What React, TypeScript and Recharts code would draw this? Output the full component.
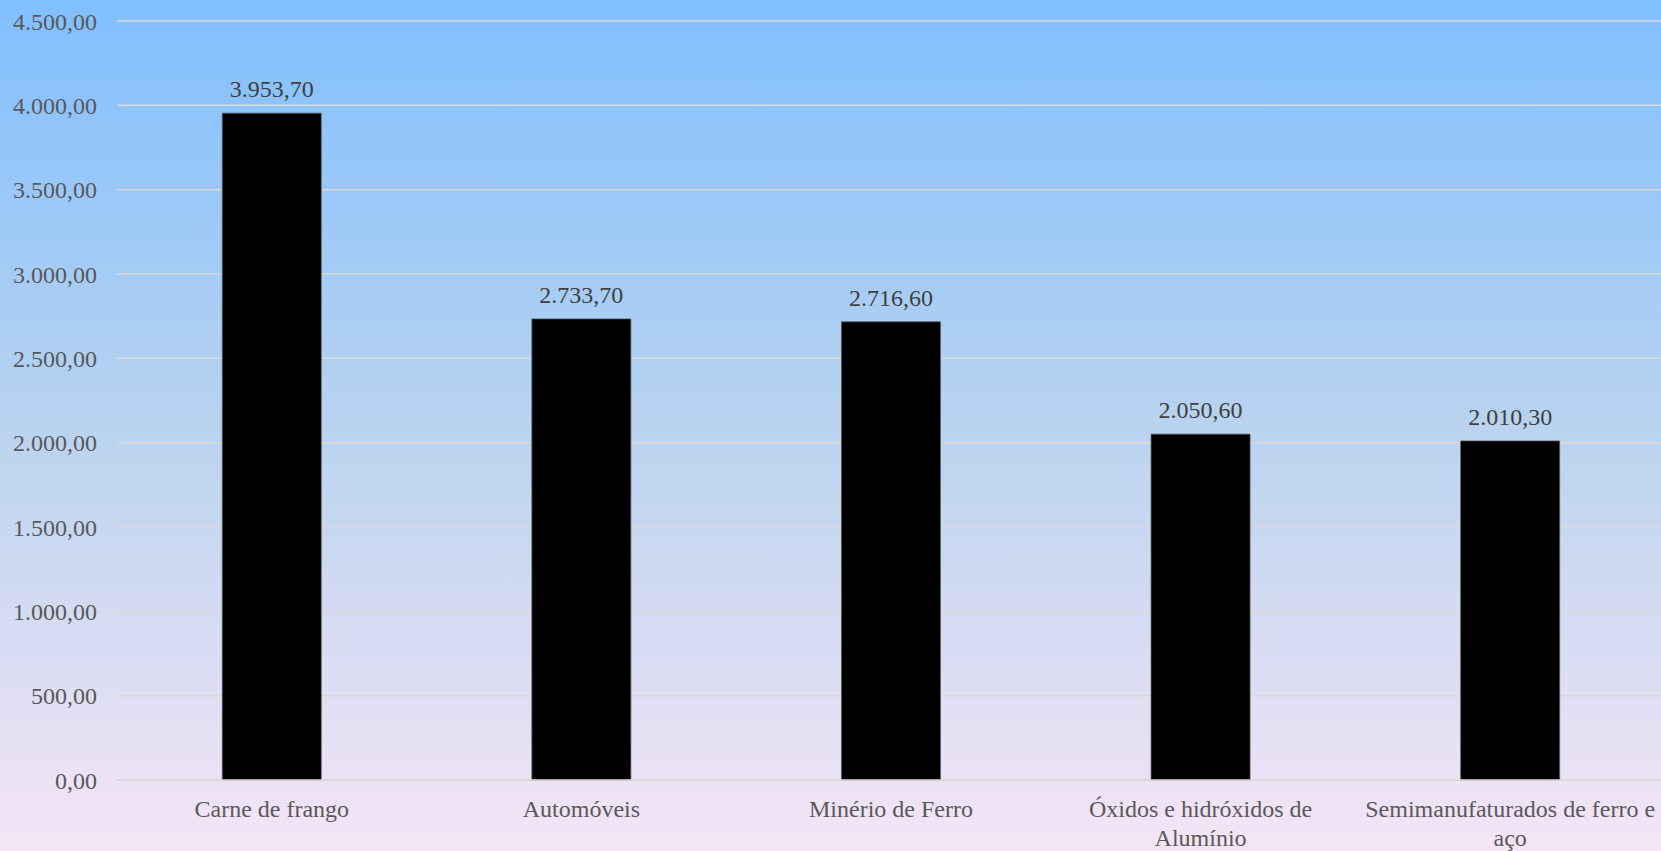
import { BarChart, Bar, XAxis, YAxis, CartesianGrid, LabelList } from 'recharts';

const categories = [
  'Carne de frango',
  'Automóveis',
  'Minério de Ferro',
  'Óxidos e hidróxidos de Alumínio',
  'Semimanufaturados de ferro e aço',
];
const values = [3953.7, 2733.7, 2716.6, 2050.6, 2010.3];
const yTicks = [0, 500, 1000, 1500, 2000, 2500, 3000, 3500, 4000, 4500];

const data = categories.map((name, i) => ({ name, value: values[i] }));

const FONT = '"Liberation Serif", "Times New Roman", serif';

// 1234.5 -> "1.234,50"
function fmt(v: number) {
  const [int, dec] = v.toFixed(2).split('.');
  return int.replace(/\B(?=(\d{3})+(?!\d))/g, '.') + ',' + dec;
}

let ctx: CanvasRenderingContext2D | null = null;
function measure(s: string) {
  if (!ctx) {
    ctx = document.createElement('canvas').getContext('2d');
    if (ctx) ctx.font = '24px "Liberation Serif"';
  }
  return ctx ? ctx.measureText(s).width : s.length * 11;
}

function wrap(label: string, maxWidth: number) {
  const lines: string[] = [];
  let cur = '';
  for (const w of label.split(' ')) {
    const next = cur ? cur + ' ' + w : w;
    if (cur && measure(next) > maxWidth) {
      lines.push(cur);
      cur = w;
    } else {
      cur = next;
    }
  }
  if (cur) lines.push(cur);
  return lines;
}

function CategoryTick(props: any) {
  const { x, y, payload } = props;
  const lines = wrap(String(payload.value), 300);
  return (
    <text x={x} y={y} textAnchor="middle" fill="#595959" fontSize={24} fontFamily={FONT}>
      {lines.map((l, i) => (
        <tspan key={i} x={x} dy={i === 0 ? 17 : 29}>
          {l}
        </tspan>
      ))}
    </text>
  );
}

export default function App() {
  return (
    <div
      style={{
        position: 'absolute',
        top: 0,
        left: 0,
        width: 1661,
        height: 851,
        overflow: 'hidden',
        background: 'linear-gradient(180deg, #80bfff 0%, #b9d3ef 50%, #f5e5f6 100%)',
      }}
    >
      <BarChart
        width={1665}
        height={851}
        data={data}
        margin={{ top: 21, right: 0, left: 0, bottom: 0 }}
        barCategoryGap="34%"
      >
        <CartesianGrid vertical={false} stroke="#d9d9d9" strokeWidth={1.5} />
        <XAxis
          dataKey="name"
          height={71}
          interval={0}
          tickLine={false}
          tickSize={0}
          tickMargin={20}
          axisLine={{ stroke: '#d9d9d9', strokeWidth: 1.5 }}
          tick={<CategoryTick />}
        />
        <YAxis
          width={117}
          domain={[0, 4500]}
          ticks={yTicks}
          interval={0}
          axisLine={false}
          tickLine={false}
          tickSize={0}
          tickMargin={20}
          tickFormatter={fmt}
          tick={{ fill: '#595959', fontSize: 24, fontFamily: FONT }}
        />
        <Bar dataKey="value" fill="#000000" stroke="#595959" strokeWidth={0.75} isAnimationActive={false}>
          <LabelList
            dataKey="value"
            position="top"
            offset={16}
            formatter={(v: any) => fmt(Number(v))}
            fill="#404040"
            fontSize={24}
            fontFamily={FONT}
          />
        </Bar>
      </BarChart>
    </div>
  );
}
